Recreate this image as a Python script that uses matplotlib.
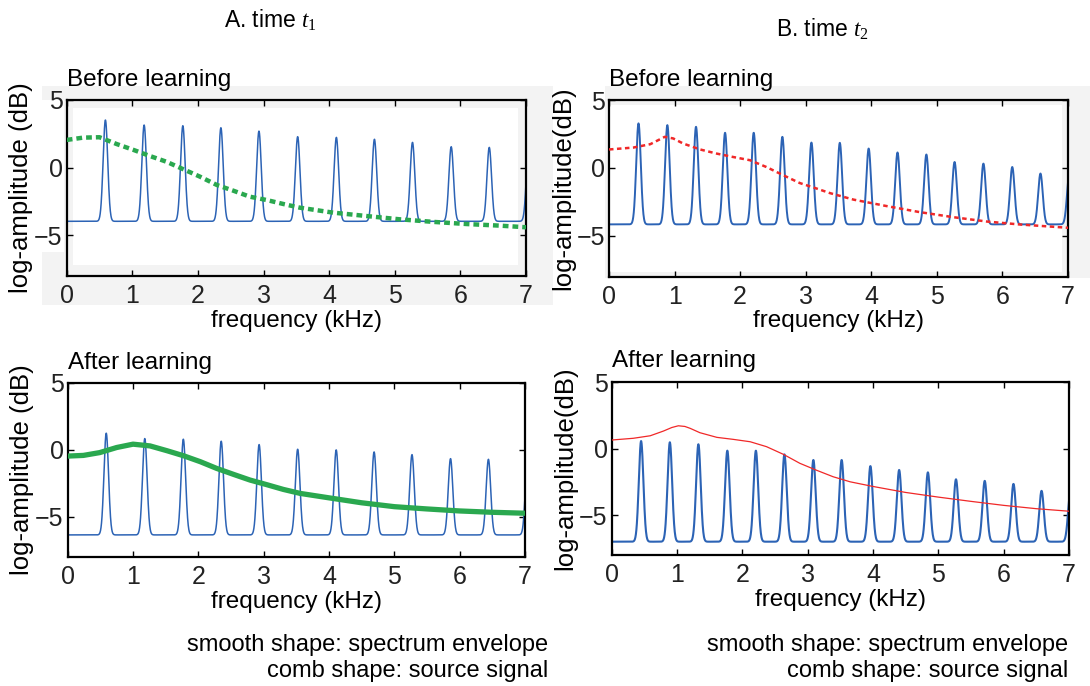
import numpy as np
import matplotlib
matplotlib.use('Agg')
import matplotlib.pyplot as plt
from matplotlib.patches import Rectangle

plt.rcParams['font.family'] = ['Liberation Sans', 'DejaVu Sans']
plt.rcParams['mathtext.fontset'] = 'custom'
plt.rcParams['mathtext.it'] = 'Liberation Serif:italic'
plt.rcParams['mathtext.rm'] = 'Liberation Serif'

# ---- data (kHz, dB) ----
# A. time t1, harmonics of the source (comb)
a_peak_f = [0.59, 1.18, 1.77, 2.35, 2.93, 3.52, 4.11, 4.69, 5.27, 5.86, 6.44, 7.04]
a_before_peak = [3.52, 3.15, 3.1, 2.95, 2.7, 2.29, 2.24, 2.1, 1.87, 1.55, 1.5, 1.5]
a_before_floor = -3.96
a_after_peak = [1.25, 0.85, 0.8, 0.65, 0.4, 0.05, 0.0, -0.15, -0.35, -0.65, -0.7, -0.8]
a_after_floor = -6.35

# A. spectrum envelopes
a_before_env_f = [0, 0.25, 0.5, 0.76, 1.02, 1.27, 1.52, 1.78, 2.03, 2.29, 2.54,
                  2.79, 3.05, 3.3, 3.55, 4.06, 4.57, 5.07, 5.58, 6.09, 6.6, 7.0]
a_before_env = [2.05, 2.22, 2.25, 1.75, 1.31, 0.86, 0.44, -0.12, -0.66, -1.28, -1.7,
                -2.14, -2.39, -2.68, -2.95, -3.32, -3.57, -3.81, -4.0, -4.16, -4.28, -4.4]
a_after_env_f = [0, 0.24, 0.49, 0.75, 1.0, 1.26, 1.52, 1.77, 2.03, 2.28, 2.54,
                 2.79, 3.05, 3.3, 3.56, 4.0, 4.5, 5.0, 5.5, 6.0, 6.5, 7.0]
a_after_env = [-0.46, -0.41, -0.2, 0.18, 0.43, 0.3, -0.06, -0.43, -0.88, -1.38, -1.83,
               -2.25, -2.6, -2.95, -3.25, -3.58, -3.95, -4.24, -4.41, -4.56, -4.66, -4.73]

# B. time t2
b_peak_f = [0.45, 0.89, 1.327, 1.77, 2.207, 2.644, 3.087, 3.52, 3.96, 4.40,
            4.84, 5.27, 5.71, 6.15, 6.58, 7.02]
b_before_peak = [3.28, 3.15, 3.03, 2.59, 2.59, 2.29, 1.87, 1.85, 1.43, 1.14,
                 0.99, 0.44, 0.32, 0.07, -0.41, -0.5]
b_before_floor = -4.15
b_after_peak = [0.56, 0.47, 0.32, -0.16, -0.16, -0.44, -0.86, -0.86, -1.32, -1.61,
                -1.79, -2.31, -2.43, -2.66, -3.18, -3.4]
b_after_floor = -7.0

b_before_env_f = [0, 0.37, 0.63, 0.85, 0.98, 1.13, 1.39, 1.64, 1.89, 2.15, 2.4,
                  2.66, 2.91, 3.17, 3.37, 3.73, 4.23, 4.74, 5.25, 5.76, 6.27, 7.0]
b_before_env = [1.36, 1.5, 1.75, 2.29, 2.17, 1.8, 1.36, 1.06, 0.81, 0.57, 0.07,
                -0.54, -1.11, -1.52, -1.85, -2.33, -2.8, -3.25, -3.62, -3.94, -4.16, -4.4]
b_after_env_f = [0, 0.33, 0.59, 0.79, 0.92, 1.02, 1.12, 1.2, 1.35, 1.61, 1.86, 2.12,
                 2.37, 2.63, 2.88, 3.13, 3.39, 3.65, 4.0, 4.5, 5.0, 5.5, 6.0, 6.5, 7.0]
b_after_env = [0.64, 0.77, 0.96, 1.31, 1.58, 1.71, 1.66, 1.52, 1.19, 0.84, 0.69, 0.51,
               0.14, -0.44, -1.11, -1.62, -2.12, -2.5, -2.85, -3.3, -3.65, -3.97,
               -4.27, -4.52, -4.71]

xticks = [0, 1, 2, 3, 4, 5, 6, 7]
yticks = [-5, 0, 5]

BLUE = '#2c63b5'
GREEN = '#2aa84f'
RED = '#f02828'
GRAY = '#f3f3f3'
TICK_FONT = ['Liberation Sans Narrow', 'Liberation Sans', 'DejaVu Sans']

W, H = 1090, 686
fig = plt.figure(figsize=(W / 100, H / 100), dpi=100)


def px_axes(x0, y0, x1, y1):
    return fig.add_axes([x0 / W, 1 - y1 / H, (x1 - x0) / W, (y1 - y0) / H])


def px_rect(x0, y0, x1, y1, color):
    fig.patches.append(Rectangle((x0 / W, 1 - y1 / H), (x1 - x0) / W, (y1 - y0) / H,
                                 transform=fig.transFigure, color=color, zorder=-1,
                                 lw=0))


def comb(peak_f, peak_h, floor):
    f = np.linspace(0, 7, 2801)
    y = np.full_like(f, floor)
    for fk, hk in zip(peak_f, peak_h):
        y += (hk - floor) * np.exp(-0.5 * ((f - fk) / 0.035) ** 2)
    return f, y


def style(ax, title, ylabel, title_pad):
    ax.set_xlim(0, 7)
    ax.set_ylim(-8, 5)
    ax.set_xticks(xticks)
    ax.set_yticks(yticks)
    ax.tick_params(direction='in', top=True, right=True, length=4, width=1,
                   labelsize=18, pad=3)
    ax.tick_params(axis='x', pad=6)
    for lbl in ax.get_xticklabels() + ax.get_yticklabels():
        lbl.set_family(TICK_FONT)
        lbl.set_color('#222222')
    for s in ax.spines.values():
        s.set_linewidth(1.6)
    ax.set_xlabel('frequency (kHz)', fontsize=17.5, labelpad=1)
    ax.set_ylabel(ylabel, fontsize=18.5, labelpad=1)
    ax.set_title(title, loc='left', fontsize=17.5, pad=title_pad)


# light grey backdrop behind the two upper panels
px_rect(42, 86, 553, 305, GRAY)
px_rect(0, 100, 64, 252, 'white')
px_rect(605, 86, 1090, 278, GRAY)

ax1 = px_axes(66.7, 100, 526, 276)
ax2 = px_axes(609, 100, 1068, 276.7)
ax3 = px_axes(67.7, 383, 525, 557)
ax4 = px_axes(611.7, 382, 1069, 555)

# A before
ax1.set_facecolor(GRAY)
ax1.add_patch(Rectangle((0.014, 0.0625), 0.969, 0.892, transform=ax1.transAxes,
                        color='white', lw=0, zorder=0))
f, y = comb(a_peak_f, a_before_peak, a_before_floor)
ax1.plot(f, y, color=BLUE, lw=1.1, zorder=2)
ax1.plot(a_before_env_f, a_before_env, color=GREEN, lw=3.2,
         linestyle=(0, (1.3, 0.9)), zorder=3)
style(ax1, 'Before learning', 'log-amplitude (dB)', 10)

# B before
ax2.set_facecolor(GRAY)
ax2.add_patch(Rectangle((0.0, 0.027), 0.987, 0.943, transform=ax2.transAxes,
                        color='white', lw=0, zorder=0))
f, y = comb(b_peak_f, b_before_peak, b_before_floor)
ax2.plot(f, y, color=BLUE, lw=1.4, zorder=2)
ax2.plot(b_before_env_f, b_before_env, color=RED, lw=1.8,
         linestyle=(0, (1.8, 1.4)), zorder=3)
style(ax2, 'Before learning', 'log-amplitude(dB)', 10)

# A after
f, y = comb(a_peak_f, a_after_peak, a_after_floor)
ax3.plot(f, y, color=BLUE, lw=1.1, zorder=2)
ax3.plot(a_after_env_f, a_after_env, color=GREEN, lw=3.8, zorder=3,
         solid_capstyle='butt')
style(ax3, 'After learning', 'log-amplitude (dB)', 10)

# B after
f, y = comb(b_peak_f, b_after_peak, b_after_floor)
ax4.plot(f, y, color=BLUE, lw=1.5, zorder=2)
ax4.plot(b_after_env_f, b_after_env, color=RED, lw=0.9, zorder=3)
style(ax4, 'After learning', 'log-amplitude(dB)', 11)

# headers and notes
fig.text(224 / W, 1 - 20 / H, r'A. time $t_{\mathit{1}}$', fontsize=16.5,
         ha='left', va='center')
fig.text(776 / W, 1 - 29 / H, r'B. time $t_{\mathit{2}}$', fontsize=16.5,
         ha='left', va='center')
for xr in (548, 1068):
    fig.text(xr / W, 1 - 645 / H, 'smooth shape: spectrum envelope', fontsize=17,
             ha='right', va='center')
    fig.text(xr / W, 1 - 671 / H, 'comb shape: source signal', fontsize=17,
             ha='right', va='center')

fig.savefig('out.png', dpi=100)
